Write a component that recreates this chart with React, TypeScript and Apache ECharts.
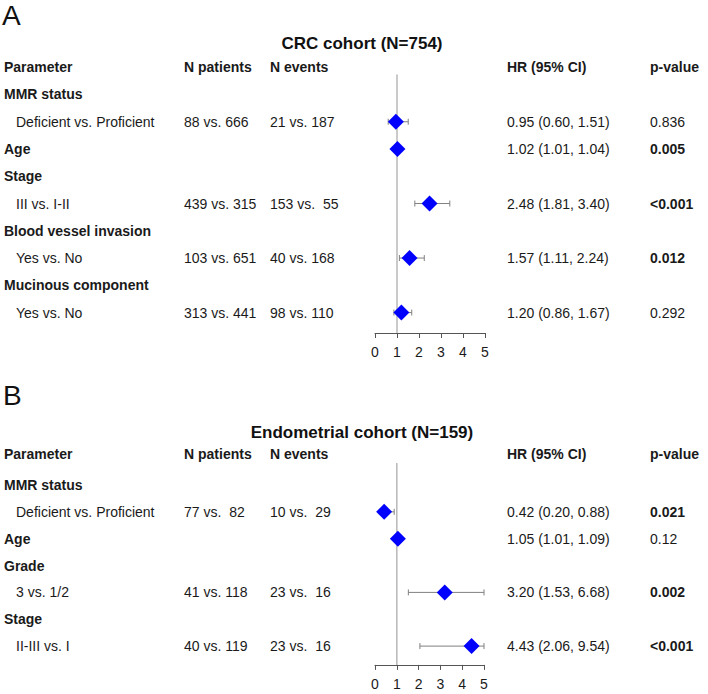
import React, { useEffect, useRef } from "react";
import * as echarts from "echarts";

const FONT = '"Liberation Sans", Arial, Helvetica, sans-serif';

// ---- Shared headers & ticks ----
const headerLabels = ["Parameter", "N patients", "N events", "HR (95% CI)", "p-value"];
const axisTicks = [0, 1, 2, 3, 4, 5];

// ---- Panel A: CRC cohort ----
const crcTitle = "CRC cohort (N=754)";
const crcParams = [
  "MMR status",
  "Deficient vs. Proficient",
  "Age",
  "Stage",
  "III vs. I-II",
  "Blood vessel invasion",
  "Yes vs. No",
  "Mucinous component",
  "Yes vs. No",
];
const crcIndent = [0, 1, 0, 0, 1, 0, 1, 0, 1];
const crcPatients = ["", "88 vs. 666", "", "", "439 vs. 315", "", "103 vs. 651", "", "313 vs. 441"];
const crcEvents = ["", "21 vs. 187", "", "", "153 vs.\u00a0 55", "", "40 vs. 168", "", "98 vs. 110"];
const crcHR = [null, 0.95, 1.02, null, 2.48, null, 1.57, null, 1.2];
const crcLower = [null, 0.6, 1.01, null, 1.81, null, 1.11, null, 0.86];
const crcUpper = [null, 1.51, 1.04, null, 3.4, null, 2.24, null, 1.67];
const crcP = ["", "0.836", "0.005", "", "<0.001", "", "0.012", "", "0.292"];

// ---- Panel B: Endometrial cohort ----
const endoTitle = "Endometrial cohort (N=159)";
const endoParams = [
  "MMR status",
  "Deficient vs. Proficient",
  "Age",
  "Grade",
  "3 vs. 1/2",
  "Stage",
  "II-III vs. I",
];
const endoIndent = [0, 1, 0, 0, 1, 0, 1];
const endoPatients = ["", "77 vs.\u00a0 82", "", "", "41 vs. 118", "", "40 vs. 119"];
const endoEvents = ["", "10 vs.\u00a0 29", "", "", "23 vs.\u00a0 16", "", "23 vs.\u00a0 16"];
const endoHR = [null, 0.42, 1.05, null, 3.2, null, 4.43];
const endoLower = [null, 0.2, 1.01, null, 1.53, null, 2.06];
const endoUpper = [null, 0.88, 1.09, null, 6.68, null, 9.54];
const endoP = ["", "0.021", "0.12", "", "0.002", "", "<0.001"];

// column x positions (px)
const COL_PARAM = 4;
const COL_INDENT = 16;
const COL_PAT = 184;
const COL_EVT = 270;
const COL_HR = 507;
const COL_P = 650;
const TEXT_COLOR = "#1a1a1a";

const isSig = (p: string) => p.startsWith("<") || (p !== "" && parseFloat(p) < 0.05);

function makePanel(
  idx: number,
  params: string[],
  indent: number[],
  patients: string[],
  events: string[],
  hr: (number | null)[],
  lo: (number | null)[],
  hi: (number | null)[],
  pv: string[],
  headerRow: number,
  lineTop: number,
  axisRow: number
) {
  const xMin = axisTicks[0];
  const xMax = axisTicks[axisTicks.length - 1];
  const textData: number[][] = [[0, headerRow]];
  params.forEach((_, i) => textData.push([0, i + 1]));

  const textSeries = {
    type: "custom",
    xAxisIndex: idx,
    yAxisIndex: idx,
    z: 2,
    silent: true,
    data: textData,
    renderItem: (p: any, api: any) => {
      const di = p.dataIndex;
      const y = api.coord([0, api.value(1)])[1];
      const mk = (x: number, text: string, bold: boolean) => ({
        type: "text",
        x,
        y,
        style: {
          text,
          fill: TEXT_COLOR,
          font: `${bold ? "bold " : ""}14px ${FONT}`,
          textAlign: "left",
          textVerticalAlign: "middle",
        },
      });
      if (di === 0) {
        return {
          type: "group",
          children: [
            mk(COL_PARAM, headerLabels[0], true),
            mk(COL_PAT, headerLabels[1], true),
            mk(COL_EVT, headerLabels[2], true),
            mk(COL_HR, headerLabels[3], true),
            mk(COL_P, headerLabels[4], true),
          ],
        };
      }
      const i = di - 1;
      const children: any[] = [];
      children.push(mk(indent[i] ? COL_INDENT : COL_PARAM, params[i], !indent[i]));
      if (patients[i]) children.push(mk(COL_PAT, patients[i], false));
      if (events[i]) children.push(mk(COL_EVT, events[i], false));
      const h = hr[i];
      const l = lo[i];
      const u = hi[i];
      if (h != null && l != null && u != null) {
        children.push(mk(COL_HR, `${h.toFixed(2)} (${l.toFixed(2)}, ${u.toFixed(2)})`, false));
      }
      if (pv[i]) children.push(mk(COL_P, pv[i], isSig(pv[i])));
      return { type: "group", children };
    },
  };

  const ciData: number[][] = [];
  const ptData: number[][] = [];
  hr.forEach((h, i) => {
    if (h != null) {
      ciData.push([lo[i] as number, hi[i] as number, i + 1]);
      ptData.push([h, i + 1]);
    }
  });

  const refSeries = {
    type: "custom",
    xAxisIndex: idx,
    yAxisIndex: idx,
    z: 1,
    silent: true,
    data: [[1, lineTop, axisRow]],
    renderItem: (_p: any, api: any) => {
      const a = api.coord([api.value(0), api.value(1)]);
      const b = api.coord([api.value(0), api.value(2)]);
      return {
        type: "line",
        shape: { x1: a[0], y1: a[1], x2: b[0], y2: b[1] },
        style: { stroke: "#b8b8b8", lineWidth: 1.5 },
      };
    },
  };

  const ciSeries = {
    type: "custom",
    xAxisIndex: idx,
    yAxisIndex: idx,
    z: 2,
    silent: true,
    data: ciData,
    renderItem: (_p: any, api: any) => {
      const row = api.value(2);
      const l = Math.max(api.value(0), xMin);
      const u = Math.min(api.value(1), xMax);
      const a = api.coord([l, row]);
      const b = api.coord([u, row]);
      const st = { stroke: "#808080", lineWidth: 1 };
      const c = 3;
      return {
        type: "group",
        children: [
          { type: "line", shape: { x1: a[0], y1: a[1], x2: b[0], y2: b[1] }, style: st },
          { type: "line", shape: { x1: a[0], y1: a[1] - c, x2: a[0], y2: a[1] + c }, style: st },
          { type: "line", shape: { x1: b[0], y1: b[1] - c, x2: b[0], y2: b[1] + c }, style: st },
        ],
      };
    },
  };

  const ptSeries = {
    type: "scatter",
    xAxisIndex: idx,
    yAxisIndex: idx,
    z: 3,
    silent: true,
    symbol: "diamond",
    symbolSize: 16,
    itemStyle: { color: "#0000ff", opacity: 1 },
    data: ptData,
  };

  return [refSeries, ciSeries, ptSeries, textSeries];
}

const xAxisBase = {
  type: "value",
  position: "bottom",
  min: 0,
  max: 5,
  interval: 1,
  axisLine: { show: true, onZero: false, lineStyle: { color: "#555555", width: 1 } },
  axisTick: { show: true, length: 5, lineStyle: { color: "#555555" } },
  axisLabel: { color: "#1a1a1a", fontSize: 14, fontFamily: FONT, margin: 12 },
  splitLine: { show: false },
};

export default function App() {
  const ref = useRef<HTMLDivElement>(null);
  useEffect(() => {
    if (!ref.current) return;
    const chart = echarts.init(ref.current, undefined, { renderer: "svg" });
    const option = {
      animation: false,
      backgroundColor: "#ffffff",
      grid: [
        { left: 375, width: 110, top: 53.6, height: 279.4 },
        { left: 375, width: 109, top: 444.7, height: 220.2 },
      ],
      xAxis: [
        { ...xAxisBase, gridIndex: 0 },
        { ...xAxisBase, gridIndex: 1 },
      ],
      yAxis: [
        { type: "value", gridIndex: 0, inverse: true, min: -0.5, max: 9.75, show: false },
        { type: "value", gridIndex: 1, inverse: true, min: -0.5, max: 7.7, show: false },
      ],
      graphic: [
        {
          type: "text",
          x: 2,
          y: 15,
          style: { text: "A", fill: "#111", font: `28px ${FONT}`, textAlign: "left", textVerticalAlign: "middle" },
        },
        {
          type: "text",
          x: 362,
          y: 43,
          style: { text: crcTitle, fill: "#111", font: `bold 17px ${FONT}`, textAlign: "center", textVerticalAlign: "middle" },
        },
        {
          type: "text",
          x: 3,
          y: 395,
          style: { text: "B", fill: "#111", font: `28px ${FONT}`, textAlign: "left", textVerticalAlign: "middle" },
        },
        {
          type: "text",
          x: 362,
          y: 432,
          style: { text: endoTitle, fill: "#111", font: `bold 17px ${FONT}`, textAlign: "center", textVerticalAlign: "middle" },
        },
      ],
      series: [
        ...makePanel(0, crcParams, crcIndent, crcPatients, crcEvents, crcHR, crcLower, crcUpper, crcP, 0, 0.27, 9.75),
        ...makePanel(1, endoParams, endoIndent, endoPatients, endoEvents, endoHR, endoLower, endoUpper, endoP, -0.15, 0.18, 7.7),
      ],
    };
    chart.setOption(option as any);
    return () => chart.dispose();
  }, []);
  return (
    <div
      ref={ref}
      style={{ position: "absolute", left: 0, top: 0, width: 708, height: 694, background: "#fff" }}
    />
  );
}
